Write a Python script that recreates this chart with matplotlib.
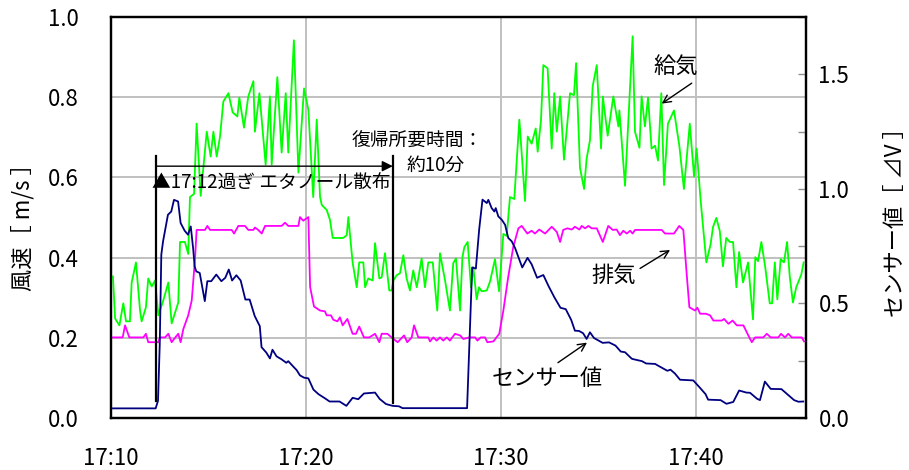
import matplotlib
matplotlib.use("Agg")
import matplotlib.pyplot as plt
import matplotlib.dates as mdates
from matplotlib.ticker import MultipleLocator, FormatStrFormatter
import numpy as np
import pandas as pd

plt.rcParams['font.family'] = ['Noto Sans CJK JP', 'DejaVu Sans']

# ---------------- data (minutes after 17:10, values) ----------------
supply_t = [0.10, 0.21, 0.43, 0.63, 0.77, 0.97, 1.06, 1.28, 1.49, 1.57,
            1.79, 1.91, 2.09, 2.26, 2.43, 2.68, 2.94, 3.11, 3.45, 3.54,
            3.79, 3.96, 4.05, 4.26, 4.39, 4.60, 4.91, 5.11, 5.25, 5.42,
            5.59, 5.76, 6.02, 6.24, 6.48, 6.58, 6.82, 7.04, 7.30, 7.38,
            7.61, 7.93, 8.15, 8.24, 8.53, 8.75, 8.96, 9.09, 9.38, 9.61,
            9.90, 10.12, 10.37, 10.55, 10.72, 10.81, 11.06, 11.23, 11.37, 11.91,
            12.09, 12.17, 12.39, 12.60, 12.73, 12.94, 13.03, 13.19, 13.42, 13.54,
            13.76, 13.88, 14.05, 14.27, 14.39, 14.48, 14.65, 14.82, 14.99, 15.16,
            15.33, 15.50, 15.68, 15.93, 16.10, 16.27, 16.50, 16.73, 16.87, 17.13,
            17.38, 17.55, 17.69, 17.90, 18.02, 18.12, 18.29, 18.46, 18.58, 18.75,
            18.87, 19.01, 19.27, 19.44, 19.69, 19.90, 20.12, 20.29, 20.46, 20.68,
            20.94, 21.23, 21.37, 21.57, 21.78, 21.88, 22.05, 22.17, 22.39, 22.60,
            22.73, 22.86, 23.03, 23.23, 23.54, 23.74, 23.85, 24.05, 24.26, 24.39,
            24.56, 24.70, 24.91, 25.13, 25.22, 25.47, 25.76, 26.02, 26.07, 26.36,
            26.75, 26.87, 27.10, 27.21, 27.38, 27.54, 27.72, 27.90, 28.05, 28.22,
            28.36, 28.56, 28.87, 29.15, 29.38, 29.68, 29.90, 30.03, 30.24, 30.53,
            30.75, 30.87, 31.04, 31.22, 31.38, 31.55, 31.73, 31.90, 32.07, 32.21,
            32.41, 32.67, 32.92, 33.04, 33.18, 33.35, 33.55, 33.78, 33.90, 34.04,
            34.17, 34.34, 34.51, 34.67, 34.81, 34.97, 35.14, 35.40, 35.52]
supply_v = [0.353, 0.248, 0.231, 0.286, 0.241, 0.241, 0.338, 0.388, 0.268, 0.241,
            0.276, 0.348, 0.328, 0.343, 0.256, 0.293, 0.338, 0.236, 0.288, 0.439,
            0.439, 0.409, 0.551, 0.559, 0.734, 0.554, 0.714, 0.652, 0.714, 0.652,
            0.702, 0.789, 0.810, 0.762, 0.752, 0.799, 0.724, 0.802, 0.840, 0.714,
            0.810, 0.632, 0.802, 0.632, 0.850, 0.662, 0.810, 0.662, 0.942, 0.612,
            0.822, 0.769, 0.551, 0.744, 0.551, 0.531, 0.519, 0.494, 0.449, 0.449,
            0.456, 0.501, 0.388, 0.326, 0.388, 0.388, 0.326, 0.348, 0.343, 0.436,
            0.348, 0.351, 0.411, 0.318, 0.318, 0.343, 0.356, 0.361, 0.406, 0.348,
            0.318, 0.368, 0.326, 0.398, 0.326, 0.388, 0.388, 0.268, 0.411, 0.343,
            0.268, 0.386, 0.398, 0.268, 0.401, 0.426, 0.439, 0.326, 0.376, 0.296,
            0.326, 0.316, 0.318, 0.341, 0.396, 0.316, 0.459, 0.454, 0.551, 0.546,
            0.744, 0.541, 0.702, 0.684, 0.722, 0.664, 0.742, 0.880, 0.872, 0.672,
            0.810, 0.714, 0.802, 0.644, 0.810, 0.805, 0.885, 0.624, 0.571, 0.647,
            0.692, 0.827, 0.880, 0.672, 0.802, 0.704, 0.802, 0.727, 0.767, 0.579,
            0.952, 0.714, 0.674, 0.802, 0.727, 0.799, 0.672, 0.679, 0.642, 0.810,
            0.581, 0.734, 0.767, 0.677, 0.571, 0.734, 0.602, 0.672, 0.541, 0.388,
            0.434, 0.476, 0.499, 0.466, 0.378, 0.449, 0.439, 0.439, 0.326, 0.414,
            0.338, 0.388, 0.246, 0.401, 0.391, 0.439, 0.376, 0.286, 0.286, 0.388,
            0.296, 0.396, 0.388, 0.439, 0.351, 0.288, 0.326, 0.358, 0.388]

exhaust_t = [0.09, 0.60, 0.72, 0.94, 1.66, 1.79, 1.91, 2.43, 2.51, 2.77,
             2.94, 3.11, 3.33, 3.45, 3.57, 3.71, 3.96, 4.14, 4.31, 4.39,
             4.82, 4.94, 5.08, 6.19, 6.31, 6.53, 6.87, 7.04, 7.30, 7.38,
             7.55, 7.73, 7.90, 8.75, 8.92, 9.09, 9.61, 9.69, 9.86, 10.12,
             10.21, 10.41, 10.72, 10.97, 11.06, 11.28, 11.40, 11.61, 11.74, 11.88,
             12.12, 12.39, 12.56, 12.73, 12.97, 13.25, 13.54, 13.76, 13.88, 14.17,
             14.39, 14.70, 15.03, 15.19, 15.42, 15.54, 15.76, 16.27, 16.36, 16.53,
             16.70, 16.87, 17.04, 17.22, 17.38, 17.64, 17.90, 18.07, 18.37, 18.67,
             18.79, 18.96, 19.18, 19.30, 19.61, 19.91, 20.12, 20.37, 20.63, 20.89,
             21.06, 21.35, 21.57, 21.74, 21.96, 22.26, 22.60, 22.86, 23.03, 23.19,
             23.40, 23.63, 23.79, 24.02, 24.14, 24.31, 24.48, 24.65, 24.91, 25.22,
             25.50, 25.73, 25.93, 26.10, 26.27, 26.45, 26.62, 26.75, 26.87, 28.24,
             28.41, 28.87, 29.14, 29.35, 29.52, 29.66, 29.95, 30.07, 30.21, 30.51,
             30.72, 30.89, 31.32, 31.44, 31.66, 31.88, 32.09, 32.43, 32.68, 32.86,
             33.03, 33.45, 33.63, 33.83, 34.22, 34.36, 34.56, 34.73, 34.91, 35.42,
             35.54]
exhaust_v = [0.201, 0.201, 0.231, 0.201, 0.201, 0.210, 0.189, 0.189, 0.201, 0.201,
             0.210, 0.189, 0.203, 0.210, 0.189, 0.222, 0.256, 0.293, 0.398, 0.469,
             0.469, 0.479, 0.469, 0.469, 0.460, 0.479, 0.479, 0.469, 0.469, 0.475,
             0.469, 0.460, 0.479, 0.479, 0.487, 0.479, 0.479, 0.501, 0.492, 0.501,
             0.327, 0.278, 0.268, 0.266, 0.256, 0.256, 0.245, 0.241, 0.251, 0.231,
             0.247, 0.210, 0.210, 0.228, 0.201, 0.201, 0.210, 0.189, 0.210, 0.210,
             0.201, 0.189, 0.206, 0.189, 0.201, 0.231, 0.201, 0.201, 0.191, 0.201,
             0.193, 0.201, 0.193, 0.201, 0.193, 0.210, 0.206, 0.197, 0.201, 0.201,
             0.193, 0.201, 0.201, 0.189, 0.191, 0.210, 0.268, 0.352, 0.427, 0.473,
             0.479, 0.460, 0.467, 0.460, 0.470, 0.460, 0.477, 0.464, 0.439, 0.469,
             0.473, 0.470, 0.477, 0.470, 0.479, 0.473, 0.479, 0.473, 0.473, 0.439,
             0.479, 0.469, 0.470, 0.456, 0.467, 0.460, 0.467, 0.460, 0.469, 0.469,
             0.460, 0.460, 0.479, 0.469, 0.360, 0.276, 0.268, 0.275, 0.260, 0.260,
             0.256, 0.243, 0.243, 0.247, 0.235, 0.243, 0.231, 0.231, 0.206, 0.189,
             0.201, 0.201, 0.210, 0.201, 0.201, 0.210, 0.201, 0.210, 0.201, 0.201,
             0.191]

sensor_t = [0.10, 2.29, 2.41, 2.50, 2.58, 2.67, 2.92, 3.09, 3.23, 3.44,
            3.57, 3.78, 3.95, 4.09, 4.21, 4.29, 4.37, 4.55, 4.81, 4.94,
            5.14, 5.40, 5.66, 5.86, 6.04, 6.21, 6.43, 6.65, 6.89, 7.11,
            7.37, 7.63, 7.72, 7.96, 8.15, 8.28, 8.49, 8.73, 8.99, 9.09,
            9.33, 9.52, 9.69, 9.90, 10.12, 10.38, 10.64, 10.97, 11.21, 11.72,
            12.07, 12.39, 12.68, 12.97, 13.54, 13.78, 14.10, 14.44, 14.77, 14.95,
            18.26, 18.52, 18.71, 18.88, 19.05, 19.27, 19.35, 19.52, 19.66, 19.73,
            19.86, 20.04, 20.21, 20.37, 20.55, 20.72, 20.97, 21.09, 21.36, 21.57,
            21.85, 22.17, 22.43, 22.74, 23.05, 23.32, 23.60, 23.79, 24.00, 24.21,
            24.39, 24.56, 24.77, 25.21, 25.54, 25.87, 26.14, 26.36, 26.70, 26.77,
            27.23, 27.44, 27.90, 28.17, 28.53, 28.69, 28.92, 29.18, 29.86, 30.19,
            30.49, 30.62, 31.26, 31.56, 31.91, 32.21, 32.58, 32.77, 33.13, 33.28,
            33.53, 33.83, 34.38, 35.03, 35.25, 35.50]
sensor_v = [0.042, 0.042, 0.075, 0.322, 0.713, 0.771, 0.887, 0.901, 0.952, 0.945,
            0.851, 0.817, 0.800, 0.836, 0.742, 0.662, 0.640, 0.633, 0.510, 0.597,
            0.597, 0.626, 0.597, 0.612, 0.648, 0.600, 0.623, 0.600, 0.517, 0.517,
            0.445, 0.401, 0.309, 0.286, 0.260, 0.298, 0.269, 0.257, 0.241, 0.248,
            0.226, 0.209, 0.186, 0.176, 0.173, 0.124, 0.104, 0.086, 0.072, 0.072,
            0.053, 0.088, 0.082, 0.107, 0.111, 0.083, 0.061, 0.053, 0.051, 0.043,
            0.043, 0.657, 0.652, 0.823, 0.953, 0.938, 0.952, 0.916, 0.901, 0.916,
            0.880, 0.865, 0.843, 0.786, 0.771, 0.742, 0.684, 0.657, 0.699, 0.671,
            0.612, 0.624, 0.577, 0.526, 0.481, 0.475, 0.428, 0.381, 0.380, 0.370,
            0.345, 0.374, 0.349, 0.328, 0.330, 0.316, 0.290, 0.287, 0.259, 0.257,
            0.248, 0.238, 0.236, 0.223, 0.206, 0.211, 0.194, 0.167, 0.164, 0.133,
            0.104, 0.080, 0.078, 0.062, 0.070, 0.120, 0.111, 0.110, 0.084, 0.078,
            0.159, 0.127, 0.126, 0.078, 0.071, 0.072]

spray_min = 2.31      # ethanol spray (just after 17:12)
recover_min = 14.45   # recovery (~10 min later)
x_end_min = 35.64

# ---------------- helpers ----------------
base_num = mdates.date2num(pd.Timestamp("2024-01-01 17:10:00"))


def tn(m):
    return base_num + np.asarray(m, dtype=float) / 1440.0


fig = plt.figure(figsize=(9.09, 4.70), dpi=100)
ax = fig.add_axes([111 / 909, 1 - 418 / 470, (806 - 111) / 909, (418 - 17) / 470])
ax2 = ax.twinx()

ax.plot(tn(supply_t), supply_v, color='#00FF00', lw=1.3, zorder=3)
ax.plot(tn(exhaust_t), exhaust_v, color='#FF00FF', lw=1.3, zorder=4)
ax2.plot(tn(sensor_t), sensor_v, color='#000080', lw=1.3, zorder=3)

ax.set_xlim(tn(0), tn(x_end_min))
ax.set_ylim(0, 1.0)
ax2.set_ylim(0, 1.75)

ax.xaxis.set_major_locator(mdates.MinuteLocator(byminute=range(0, 60, 10)))
ax.xaxis.set_major_formatter(mdates.DateFormatter('%H:%M'))
ax.yaxis.set_major_locator(MultipleLocator(0.2))
ax.yaxis.set_major_formatter(FormatStrFormatter('%.1f'))
ax2.yaxis.set_major_locator(MultipleLocator(0.5))
ax2.yaxis.set_minor_locator(MultipleLocator(0.25))
ax2.yaxis.set_major_formatter(FormatStrFormatter('%.1f'))

ax.grid(True, color='#c0c0c0', lw=1.4)
ax.set_axisbelow(True)

ax.tick_params(axis='y', length=0, pad=23, labelsize=16)
ax.tick_params(axis='x', length=0, pad=21, labelsize=16)
ax2.tick_params(axis='y', which='both', direction='in', length=6, width=1,
                color='#909090', pad=9, labelsize=16)

for a in (ax, ax2):
    for s in a.spines.values():
        s.set_color('black')
        s.set_linewidth(1.6)

# ---------------- annotations ----------------
ax.plot(tn([spray_min, spray_min]), [0.654, 0.043], color='black', lw=1.6, zorder=5)
ax.plot(tn([recover_min, recover_min]), [0.654, 0.038], color='black', lw=1.6, zorder=5)
ax.annotate('', xy=(tn(recover_min), 0.628), xytext=(tn(spray_min), 0.628),
            arrowprops=dict(arrowstyle='-|>', color='black', lw=1.0,
                            mutation_scale=16, shrinkA=0, shrinkB=0), zorder=5)

ax.text(tn(2.10), 0.586, '▲17:12過ぎ エタノール散布', fontsize=13.5,
        ha='left', va='center', zorder=6)
ax.text(tn(12.36), 0.689, '復帰所要時間：', fontsize=13.5, ha='left', va='center', zorder=6)
ax.text(tn(15.13), 0.629, '約10分', fontsize=13.5, ha='left', va='center', zorder=6)

arrow_kw = dict(arrowstyle='->', color='black', lw=1.0, mutation_scale=14,
                shrinkA=0, shrinkB=0)
ax.text(tn(28.97), 0.877, '給気', fontsize=16, ha='center', va='center', zorder=6)
ax.annotate('', xy=(tn(28.24), 0.784), xytext=(tn(29.78), 0.835), arrowprops=arrow_kw, zorder=6)
ax.text(tn(25.79), 0.356, '排気', fontsize=16, ha='center', va='center', zorder=6)
ax.annotate('', xy=(tn(28.67), 0.419), xytext=(tn(27.13), 0.373), arrowprops=arrow_kw, zorder=6)
ax.text(tn(22.36), 0.098, 'センサー値', fontsize=16, ha='center', va='center', zorder=6)
ax.annotate('', xy=(tn(24.41), 0.188), xytext=(tn(22.92), 0.138), arrowprops=arrow_kw, zorder=6)

fig.text(23 / 909, 1 - 222 / 470, '風速［ m/s ］', rotation=90, fontsize=16,
         ha='center', va='center')
fig.text(895 / 909, 1 - 217 / 470, 'センサー値［ ⊿V ］', rotation=90, fontsize=16,
         ha='center', va='center')

fig.savefig('out.png', dpi=100)
